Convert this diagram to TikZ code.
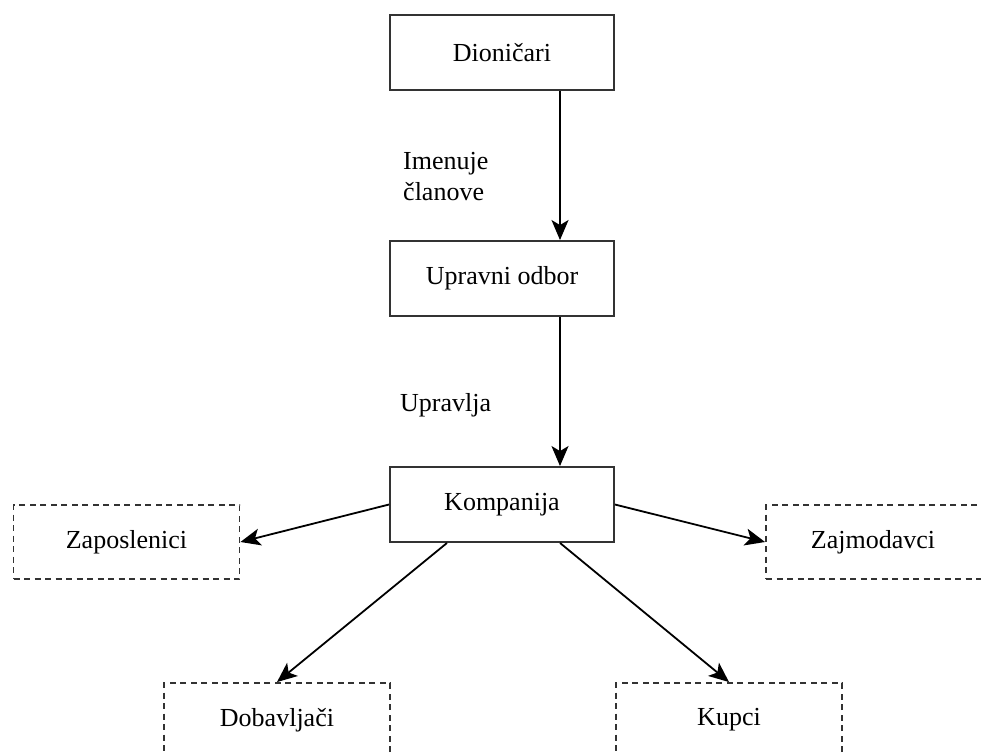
\documentclass[tikz,border=0pt]{standalone}
\usepackage{fontspec}
\setmainfont{Liberation Serif}
\usetikzlibrary{arrows.meta,calc}
\definecolor{edge}{HTML}{333333}
\tikzset{
  box/.style={draw=edge, line width=1.9pt, minimum width=224pt, minimum height=75pt, inner sep=0pt, font=\fontsize{26}{30}\selectfont},
  dbox/.style={draw=edge, line width=1.9pt, dash pattern=on 6pt off 4.5pt, minimum width=226pt, minimum height=74pt, inner sep=0pt, font=\fontsize{26}{30}\selectfont},
  lab/.style={inner sep=0pt, align=left, font=\fontsize{26}{30}\selectfont},
  conn/.style={draw=black, line width=1.8pt, -{Stealth[length=20pt,width=17pt,inset=5pt]}}
}
\begin{document}
\begin{tikzpicture}[x=1pt,y=-1pt]
\path[use as bounding box, clip] (0,0) rectangle (981,754);
\node[box] (dion) at (502,52.5) {Dioničari};
\node[box] (upr) at (502,278.5) {Upravni odbor};
\node[box] (komp) at (502,504.5) {Kompanija};
\node[dbox] (zap) at (126.5,542) {Zaposlenici};
\node[dbox] (zaj) at (879,542) {};
\node[font=\fontsize{26}{30}\selectfont, inner sep=0pt] (zajt) at (873,542) {Zajmodavci};
\node[dbox] (dob) at (277,720) {Dobavljači};
\node[dbox] (kup) at (729,720) {Kupci};
\node[lab, anchor=base west] (l1) at (403,200) {Imenuje\\članove};
\node[lab, anchor=base west] (l2) at (400,411) {Upravlja};
\coordinate (d1) at ($(dion.south)+(58,0)$);
\coordinate (u1) at ($(upr.north)+(58,0)$);
\coordinate (u2) at ($(upr.south)+(58,0)$);
\coordinate (k1) at ($(komp.north)+(58,0)$);
\coordinate (k2) at ($(komp.south)+(-55,0)$);
\coordinate (k3) at ($(komp.south)+(58,0)$);
\draw[conn] (d1) -- (u1);
\draw[conn] (u2) -- (k1);
\draw[conn] (komp.west) -- (zap.east);
\draw[conn] (komp.east) -- (zaj.west);
\draw[conn] (k2) -- (dob.north);
\draw[conn] (k3) -- (kup.north);
\end{tikzpicture}
\end{document}
